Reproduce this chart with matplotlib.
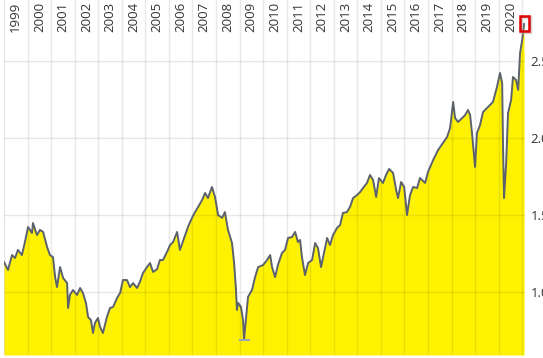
import matplotlib
matplotlib.use("Agg")
import matplotlib.pyplot as plt
from matplotlib.patches import Rectangle
from matplotlib.transforms import blended_transform_factory

years = [
    1999.00, 1999.17, 1999.34, 1999.47, 1999.59, 1999.76, 1999.89,
    2000.02, 2000.19, 2000.23, 2000.40, 2000.53, 2000.66, 2000.83, 2000.95,
    2001.08, 2001.17, 2001.25, 2001.38, 2001.51, 2001.68, 2001.72, 2001.80, 2001.93,
    2002.10, 2002.23, 2002.35, 2002.48, 2002.57, 2002.69, 2002.78, 2002.86, 2002.99,
    2003.08, 2003.20, 2003.37, 2003.50, 2003.63, 2003.80, 2003.93,
    2004.05, 2004.22, 2004.35, 2004.48, 2004.65, 2004.77, 2004.90,
    2005.07, 2005.20, 2005.33, 2005.50, 2005.62, 2005.75, 2005.92,
    2006.05, 2006.18, 2006.35, 2006.47, 2006.69, 2006.81, 2006.98,
    2007.11, 2007.24, 2007.41, 2007.54, 2007.66, 2007.83, 2007.96,
    2008.09, 2008.26, 2008.38, 2008.51, 2008.68, 2008.77, 2008.85, 2008.89, 2008.94,
    2009.06, 2009.15, 2009.19, 2009.28, 2009.36, 2009.53, 2009.66, 2009.79,
    2010.00, 2010.17, 2010.30, 2010.38, 2010.51, 2010.63, 2010.80, 2010.93,
    2011.06, 2011.23, 2011.36, 2011.48, 2011.57, 2011.65, 2011.78, 2011.91,
    2012.08, 2012.21, 2012.33, 2012.46, 2012.55, 2012.72, 2012.84, 2012.97,
    2013.14, 2013.27, 2013.39, 2013.56, 2013.69, 2013.82, 2013.99,
    2014.12, 2014.24, 2014.41, 2014.54, 2014.67, 2014.80, 2014.92,
    2015.09, 2015.22, 2015.35, 2015.52, 2015.65, 2015.73, 2015.86, 2015.99,
    2016.11, 2016.24, 2016.37, 2016.54, 2016.66, 2016.88,
    2017.00, 2017.22, 2017.43, 2017.64, 2017.81, 2017.94,
    2018.07, 2018.15, 2018.28, 2018.45, 2018.58, 2018.70, 2018.79, 2018.87,
    2019.00, 2019.08, 2019.21, 2019.34, 2019.51, 2019.64, 2019.76, 2019.93,
    2020.06, 2020.15, 2020.19, 2020.23, 2020.32, 2020.40, 2020.53, 2020.61,
    2020.74, 2020.83, 2020.91, 2021.00, 2021.08,
]
values = [
    1.195, 1.143, 1.240, 1.221, 1.273, 1.240, 1.325,
    1.422, 1.383, 1.448, 1.370, 1.403, 1.390, 1.292, 1.240,
    1.227, 1.097, 1.032, 1.162, 1.091, 1.058, 0.896, 0.981, 1.013,
    0.981, 1.026, 0.994, 0.929, 0.838, 0.818, 0.734, 0.799, 0.831,
    0.773, 0.734, 0.838, 0.896, 0.903, 0.961, 0.994,
    1.078, 1.078, 1.032, 1.058, 1.026, 1.065, 1.123,
    1.162, 1.188, 1.130, 1.149, 1.208, 1.208, 1.260,
    1.305, 1.325, 1.390, 1.273, 1.370, 1.422, 1.481,
    1.519, 1.552, 1.597, 1.643, 1.610, 1.682, 1.617,
    1.500, 1.481, 1.519, 1.403, 1.318, 1.188, 1.013, 0.883, 0.929,
    0.903, 0.818, 0.690, 0.838, 0.968, 1.013, 1.097, 1.162,
    1.175, 1.208, 1.240, 1.162, 1.097, 1.175, 1.253, 1.273,
    1.351, 1.357, 1.390, 1.325, 1.338, 1.227, 1.110, 1.188,
    1.208, 1.318, 1.286, 1.162, 1.227, 1.351, 1.305, 1.370,
    1.416, 1.435, 1.513, 1.519, 1.552, 1.610, 1.630,
    1.649, 1.675, 1.708, 1.760, 1.727, 1.617, 1.740,
    1.708, 1.760, 1.799, 1.773, 1.662, 1.610, 1.714, 1.682,
    1.500, 1.630, 1.682, 1.675, 1.740, 1.708,
    1.779, 1.857, 1.922, 1.968, 2.006, 2.065,
    2.234, 2.130, 2.104, 2.130, 2.149, 2.182, 2.149, 2.032,
    1.812, 2.032, 2.084, 2.169, 2.195, 2.214, 2.234, 2.331,
    2.422, 2.357, 1.922, 1.610, 1.838, 2.162, 2.247, 2.396,
    2.377, 2.312, 2.552, 2.636, 2.740,
]
year_labels = [str(y) for y in range(1999, 2021)]
y_ticks = [1.0, 1.5, 2.0, 2.5]

plt.rcParams['font.family'] = ['Open Sans', 'DejaVu Sans']

fig = plt.figure(figsize=(5.43, 3.58), dpi=100)
ax = fig.add_axes([4 / 543, 3 / 358, 521 / 543, 355 / 358])

ymin, ymax = 0.591, 2.896
ax.set_xlim(1999.0, 2021.12)
ax.set_ylim(ymin, ymax)

ax.fill_between(years, values, ymin, color='#fff200', linewidth=0, zorder=1)
ax.plot(years, values, color='#5b626b', linewidth=1.4, zorder=3)

# minimum marker
imin = values.index(min(values))
ax.hlines(values[imin], years[imin] - 0.2, years[imin] + 0.25,
          color='#9aa6b8', linewidth=1.5, zorder=4)

# last value box with shadow
lx, lv = years[-1], values[-1]
ax.add_patch(Rectangle((lx - 0.14, lv - 0.055), 0.38, 0.1, facecolor='none',
                       edgecolor='#bbbbbb', linewidth=2.5, clip_on=False,
                       zorder=4, alpha=0.6))
ax.add_patch(Rectangle((lx - 0.19, lv - 0.045), 0.38, 0.1, facecolor='none',
                       edgecolor='#e00000', linewidth=1.8, clip_on=False, zorder=5))

ax.set_xticks(range(1999, 2022))
ax.set_xticklabels([])
ax.set_yticks(y_ticks)
ax.yaxis.tick_right()
ax.set_yticklabels([f'{t:.1f}' for t in y_ticks], fontsize=9.5, color='#333333')
ax.tick_params(axis='both', length=0)
ax.tick_params(axis='y', pad=4)
ax.grid(True, color='black', alpha=0.09, linewidth=1)
ax.set_axisbelow(False)
for s in ax.spines.values():
    s.set_visible(False)

trans = blended_transform_factory(ax.transData, ax.transAxes)
for i, lab in enumerate(year_labels):
    ax.text(1999.5 + i, 1 - 2 / 355, lab, transform=trans, rotation=90,
            ha='center', va='top', fontsize=9.5, color='#333333')

fig.savefig('out.png', dpi=100)
